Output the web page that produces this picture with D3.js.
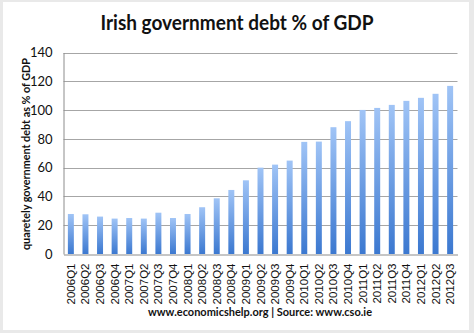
<!DOCTYPE html>
<html><head><meta charset="utf-8">
<script src="https://cdn.jsdelivr.net/npm/d3@7"></script>
<style>html,body{margin:0;padding:0;background:#e9e9e9;}svg{display:block;}</style>
</head><body>
<svg id="c" width="474" height="333"></svg>
<script>
const categories = ["2006Q1","2006Q2","2006Q3","2006Q4","2007Q1","2007Q2","2007Q3","2007Q4","2008Q1","2008Q2","2008Q3","2008Q4","2009Q1","2009Q2","2009Q3","2009Q4","2010Q1","2010Q2","2010Q3","2010Q4","2011Q1","2011Q2","2011Q3","2011Q4","2012Q1","2012Q2","2012Q3"];
const debtPct = [27.8,27.6,26.0,24.6,25.0,24.6,28.7,25.0,27.8,32.5,38.7,44.5,51.2,60.0,62.1,64.9,77.9,78.1,88.1,92.3,100.1,101.5,103.6,106.4,108.5,111.3,116.8];
const yTicks = [0,20,40,60,80,100,120,140];
const titleText = "Irish government debt % of GDP";
const yTitle = "quaretely government debt as % of GDP";
const footer = "www.economicshelp.org | Source: www.cso.ie";

const svg = d3.select("#c");
svg.append("rect").attr("x",3).attr("y",2).attr("width",466).attr("height",328).attr("fill","#fff");

const defs = svg.append("defs");
const g = defs.append("linearGradient").attr("id","bg").attr("x1",0).attr("y1",0).attr("x2",0).attr("y2",1);
g.append("stop").attr("offset","0%").attr("stop-color","#a0c4f6");
g.append("stop").attr("offset","100%").attr("stop-color","#3b78d0");

const x = d3.scaleBand().domain(categories).range([63.5,457.5]).paddingInner(0.59).paddingOuter(0.3);
const y = d3.scaleLinear().domain([0,140]).range([254,52.5]);

// gridlines
svg.append("g").selectAll("line").data(yTicks.filter(d=>d>0)).join("line")
  .attr("x1",63.5).attr("x2",457.5).attr("y1",d=>Math.round(y(d))+0.5).attr("y2",d=>Math.round(y(d))+0.5)
  .attr("stroke","#a6a6a6").attr("stroke-width",1);

// bars
svg.append("g").selectAll("rect").data(debtPct).join("rect")
  .attr("x",(d,i)=>x(categories[i])).attr("width",x.bandwidth())
  .attr("y",d=>y(d)).attr("height",d=>y(0)-y(d))
  .attr("fill","url(#bg)");

// axes
const yAxis = svg.append("g").attr("transform","translate(63.5,0)")
  .call(d3.axisLeft(y).tickValues(yTicks).tickSize(0).tickPadding(11));
yAxis.select(".domain").attr("stroke","#8c8c8c");
yAxis.selectAll("text").attr("font-family","Lato, sans-serif").attr("font-size","13px").attr("fill","#111");

const xAxis = svg.append("g").attr("transform","translate(0,"+(y(0)+0.5)+")")
  .call(d3.axisBottom(x).tickSize(0).tickPadding(0));
xAxis.select(".domain").attr("stroke","#8c8c8c");
xAxis.selectAll(".tick text")
  .attr("font-family","Liberation Sans, Arial, sans-serif").attr("font-size","11.5px").attr("fill","#111")
  .attr("transform","rotate(-90)").attr("text-anchor","end").attr("dy","0.35em").attr("x",-9).attr("y",0);

// title
svg.append("text").attr("x",237).attr("y",30).attr("text-anchor","middle")
  .attr("font-family","Lato, sans-serif").attr("font-weight","bold").attr("font-size","20px")
  .attr("textLength",273).attr("lengthAdjust","spacingAndGlyphs").attr("fill","#111").text(titleText);

// y title
svg.append("text").attr("transform","translate(30,154) rotate(-90)").attr("text-anchor","middle")
  .attr("font-family","Lato, sans-serif").attr("font-weight","bold").attr("font-size","12px")
  .attr("textLength",192).attr("lengthAdjust","spacingAndGlyphs").attr("fill","#111").text(yTitle);

// footer
svg.append("text").attr("x",260).attr("y",316).attr("text-anchor","middle")
  .attr("font-family","Lato, sans-serif").attr("font-weight","bold").attr("font-size","12px")
  .attr("textLength",224).attr("lengthAdjust","spacingAndGlyphs").attr("fill","#111").text(footer);
</script>
</body></html>
